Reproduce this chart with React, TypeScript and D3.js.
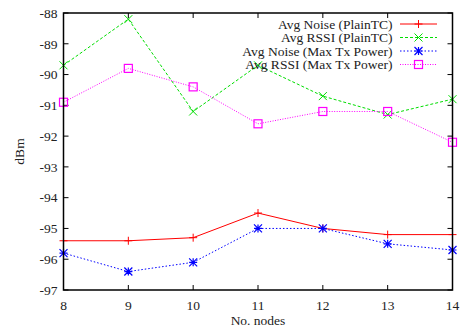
import React from "react";
import * as d3 from "d3";

const nodes = [8, 9, 10, 11, 12, 13, 14];
const noisePlain = [-95.4, -95.4, -95.3, -94.5, -95.0, -95.2, -95.2];
const rssiPlain = [-89.7, -88.2, -91.2, -89.7, -90.7, -91.3, -90.8];
const noiseMax = [-95.8, -96.4, -96.1, -95.0, -95.0, -95.5, -95.7];
const rssiMax = [-90.9, -89.8, -90.4, -91.6, -91.2, -91.2, -92.2];
const yTicks = [-88, -89, -90, -91, -92, -93, -94, -95, -96, -97];

type Marker = "plus" | "cross" | "star" | "square";

const series: { name: string; values: number[]; color: string; dash: string; marker: Marker }[] = [
  { name: "Avg Noise (PlainTC)", values: noisePlain, color: "#ff0000", dash: "", marker: "plus" },
  { name: "Avg RSSI (PlainTC)", values: rssiPlain, color: "#00dd00", dash: "3,2", marker: "cross" },
  { name: "Avg Noise (Max Tx Power)", values: noiseMax, color: "#0000ff", dash: "1.5,2", marker: "star" },
  { name: "Avg RSSI (Max Tx Power)", values: rssiMax, color: "#ff00ff", dash: "1,1.5", marker: "square" },
];

function MarkerShape({ kind, x, y, color }: { kind: Marker; x: number; y: number; color: string }) {
  const s = 4;
  if (kind === "plus")
    return <path d={`M${x - s},${y}H${x + s}M${x},${y - s}V${y + s}`} stroke={color} strokeWidth={1} fill="none" />;
  if (kind === "cross")
    return <path d={`M${x - s},${y - s}L${x + s},${y + s}M${x - s},${y + s}L${x + s},${y - s}`} stroke={color} strokeWidth={1} fill="none" />;
  if (kind === "star")
    return (
      <path
        d={`M${x - s},${y}H${x + s}M${x},${y - s}V${y + s}M${x - s},${y - s}L${x + s},${y + s}M${x - s},${y + s}L${x + s},${y - s}`}
        stroke={color}
        strokeWidth={1.2}
        fill="none"
      />
    );
  return <rect x={x - s} y={y - s} width={2 * s} height={2 * s} stroke={color} strokeWidth={1.2} fill="none" />;
}

export default function App() {
  const width = 461;
  const height = 330;
  const left = 63.5;
  const right = 452.5;
  const top = 13;
  const bottom = 290;

  const x = d3.scaleLinear().domain([8, 14]).range([left, right]);
  const y = d3.scaleLinear().domain([-97, -88]).range([bottom, top]);

  const line = d3
    .line<number>()
    .x((_, i) => x(nodes[i]))
    .y((d) => y(d));

  const font = "Liberation Serif, DejaVu Serif, serif";
  const tick = 5;
  const fs = 13.5;

  return (
    <svg width={width} height={height} style={{ position: "absolute", left: 0, top: 0, background: "#fff", fontFamily: font }}>
      {/* ticks */}
      {yTicks.map((t) => (
        <g key={t}>
          <line x1={left} x2={left + tick} y1={y(t)} y2={y(t)} stroke="#000" />
          <line x1={right} x2={right - tick} y1={y(t)} y2={y(t)} stroke="#000" />
          <text x={left - 6} y={y(t)} dy="0.35em" textAnchor="end" fontSize={fs} fill="#222">
            {t}
          </text>
        </g>
      ))}
      {nodes.map((n) => (
        <g key={n}>
          <line x1={x(n)} x2={x(n)} y1={bottom} y2={bottom - tick} stroke="#000" />
          <line x1={x(n)} x2={x(n)} y1={top} y2={top + tick} stroke="#000" />
          <text x={x(n)} y={bottom + 20} textAnchor="middle" fontSize={fs} fill="#222">
            {n}
          </text>
        </g>
      ))}

      {/* series */}
      {series.map((s) => (
        <g key={s.name}>
          <path d={line(s.values) || undefined} fill="none" stroke={s.color} strokeWidth={1} strokeDasharray={s.dash || undefined} />
          {s.values.map((v, i) => (
            <MarkerShape key={i} kind={s.marker} x={x(nodes[i])} y={y(v)} color={s.color} />
          ))}
        </g>
      ))}

      {/* legend */}
      {series.map((s, i) => {
        const ly = 24 + i * 13.5;
        return (
          <g key={s.name}>
            <text x={392.5} y={ly} dy="0.35em" textAnchor="end" fontSize={fs} fill="#222">
              {s.name}
            </text>
            <line x1={400} x2={437} y1={ly} y2={ly} stroke={s.color} strokeWidth={1} strokeDasharray={s.dash || undefined} />
            <MarkerShape kind={s.marker} x={418.5} y={ly} color={s.color} />
          </g>
        );
      })}

      {/* frame */}
      <rect x={left} y={top} width={right - left} height={bottom - top} fill="none" stroke="#000" strokeWidth={1.5} />

      <text x={(left + right) / 2} y={325} textAnchor="middle" fontSize={fs} fill="#222">
        No. nodes
      </text>
      <text transform={`translate(24,${(top + bottom) / 2}) rotate(-90)`} textAnchor="middle" fontSize={fs} fill="#222">
        dBm
      </text>
    </svg>
  );
}
